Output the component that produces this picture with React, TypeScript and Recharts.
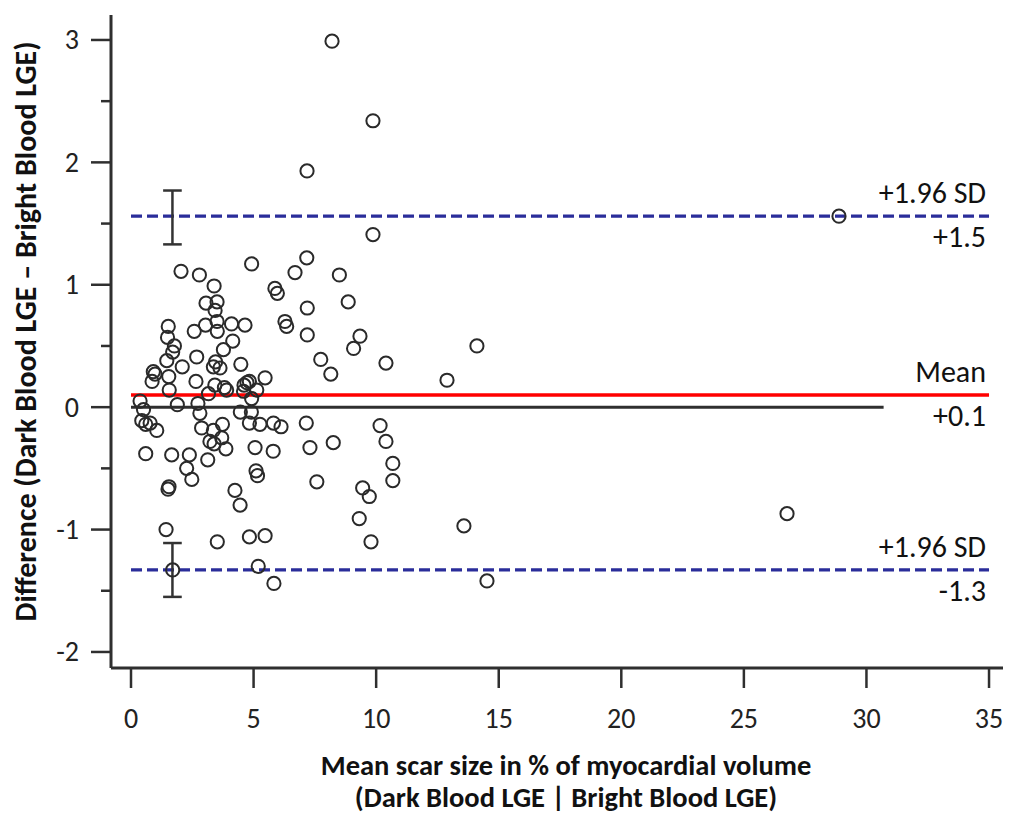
import React from 'react';
import { ScatterChart, Scatter, XAxis, YAxis, ReferenceLine } from 'recharts';

// Mean scar size (x) and difference (y) for each patient
const meanScarSize = [
  8.2, 9.87, 7.18, 9.87, 28.88, 4.92, 2.04, 2.79, 7.17, 6.69,
  8.5, 3.39, 5.87, 5.97, 3.06, 3.51, 8.86, 3.43, 7.19, 1.52,
  2.58, 3.04, 3.51, 3.52, 4.1, 4.65, 6.28, 6.35, 7.19, 9.34,
  1.49, 1.77, 1.7, 1.46, 4.15, 3.77, 9.08, 2.68, 3.45, 3.36,
  3.63, 2.09, 4.48, 7.74, 10.4, 8.15, 0.91, 0.98, 0.86, 1.54,
  5.47, 2.65, 4.73, 4.83, 12.89, 14.11, 3.42, 1.56, 3.16, 3.81,
  3.9, 5.13, 4.61, 4.59, 4.92, 0.37, 1.89, 2.73, 0.51, 2.81,
  4.46, 4.91, 0.44, 0.6, 0.78, 1.05, 7.15, 10.16, 5.81, 6.12,
  5.26, 4.83, 3.73, 3.36, 2.88, 3.7, 3.22, 3.39, 3.87, 7.3,
  8.25, 10.4, 5.06, 5.8, 10.68, 10.68, 7.58, 9.45, 9.72, 9.31,
  9.79, 0.6, 1.66, 2.38, 3.13, 2.27, 2.48, 5.1, 5.16, 1.55,
  1.51, 4.24, 4.45, 1.43, 3.52, 4.83, 5.47, 1.7, 5.19, 5.83,
  13.58, 14.52, 26.76,
];
const difference = [
  2.99, 2.34, 1.93, 1.41, 1.56, 1.17, 1.11, 1.08, 1.22, 1.1,
  1.08, 0.99, 0.97, 0.93, 0.85, 0.86, 0.86, 0.79, 0.81, 0.66,
  0.62, 0.67, 0.7, 0.62, 0.68, 0.67, 0.7, 0.66, 0.59, 0.58,
  0.57, 0.5, 0.45, 0.38, 0.54, 0.47, 0.48, 0.41, 0.37, 0.33,
  0.32, 0.33, 0.35, 0.39, 0.36, 0.27, 0.29, 0.27, 0.21, 0.25,
  0.24, 0.21, 0.2, 0.21, 0.22, 0.5, 0.18, 0.14, 0.11, 0.16,
  0.14, 0.14, 0.18, 0.13, 0.07, 0.05, 0.02, 0.03, -0.02, -0.05,
  -0.04, -0.04, -0.11, -0.14, -0.13, -0.19, -0.13, -0.15, -0.13, -0.16,
  -0.14, -0.13, -0.14, -0.19, -0.17, -0.25, -0.28, -0.3, -0.34, -0.33,
  -0.29, -0.28, -0.33, -0.36, -0.46, -0.6, -0.61, -0.66, -0.73, -0.91,
  -1.1, -0.38, -0.39, -0.39, -0.43, -0.5, -0.59, -0.52, -0.56, -0.65,
  -0.67, -0.68, -0.8, -1.0, -1.1, -1.06, -1.05, -1.33, -1.3, -1.44,
  -0.97, -1.42, -0.87,
];

const xTicks = [0, 5, 10, 15, 20, 25, 30, 35];
const yTicks = [-2, -1.5, -1, -0.5, 0, 0.5, 1, 1.5, 2, 2.5, 3];
const xDomain = [-0.816, 35.57];
const yDomain = [-2.131, 3.204];

const meanDiff = 0.1;
const upperLoA = 1.56;
const lowerLoA = -1.33;
const lineStart = 0;
const lineEnd = 35;
const zeroLineEnd = 30.7;

const ciX = 1.69;
const ciCapHalf = 0.38;
const upperCI = [1.33, 1.77];
const lowerCI = [-1.55, -1.11];

const upperLabels = ['+1.96 SD', '+1.5'];
const meanLabels = ['Mean', '+0.1'];
const lowerLabels = ['+1.96 SD', '-1.3'];

const xTitle = ['Mean scar size in % of myocardial volume', '(Dark Blood LGE | Bright Blood LGE)'];
const yTitle = 'Difference (Dark Blood LGE \u2013 Bright Blood LGE)';

const data = meanScarSize.map((x, i) => ({ x, y: difference[i] }));

const FONT = "Carlito, 'Open Sans', sans-serif";
const AXIS = '#2f2f2f';
const BLUE = '#2a2d9a';

const YTick = (props: any) => {
  const { x, y, payload } = props;
  const major = Number.isInteger(payload.value);
  return (
    <g>
      <line x1={x - (major ? 20 : 10)} x2={x} y1={y} y2={y} stroke={AXIS} strokeWidth={2.5} />
      {major && (
        <text x={x - 32} y={y} dy="0.34em" textAnchor="end" fontFamily={FONT} fontSize={28} fill="#222">
          {payload.value}
        </text>
      )}
    </g>
  );
};

const XTick = (props: any) => {
  const { x, y, payload } = props;
  return (
    <g>
      <line x1={x} x2={x} y1={y} y2={y + 20} stroke={AXIS} strokeWidth={2.5} />
      <text x={x} y={y + 60} textAnchor="middle" fontFamily={FONT} fontSize={28} fill="#222">
        {payload.value}
      </text>
    </g>
  );
};

const lineLabel = (texts: string[]) => (props: any) => {
  const vb = props.viewBox || {};
  const right = (vb.x || 0) + (vb.width || 0) - 3;
  const y = vb.y || 0;
  return (
    <g>
      <text x={right} y={y - 13} textAnchor="end" fontFamily={FONT} fontSize={30} fill="#111">
        {texts[0]}
      </text>
      <text x={right} y={y + 31} textAnchor="end" fontFamily={FONT} fontSize={30} fill="#111">
        {texts[1]}
      </text>
    </g>
  );
};

const XTitle = (props: any) => {
  const vb = props.viewBox || {};
  const cx = vb.x + vb.width / 2 + 9;
  return (
    <g>
      <text x={cx} y={vb.y + 107} textAnchor="middle" fontFamily={FONT} fontWeight="bold" fontSize={28.5} fill="#111">
        {xTitle[0]}
      </text>
      <text x={cx} y={vb.y + 139} textAnchor="middle" fontFamily={FONT} fontWeight="bold" fontSize={28.5} fill="#111">
        {xTitle[1]}
      </text>
    </g>
  );
};

const YTitle = (props: any) => {
  const vb = props.viewBox || {};
  const cy = vb.y + vb.height / 2 - 10;
  const cx = 25;
  return (
    <text
      x={cx}
      y={cy}
      dy="0.36em"
      textAnchor="middle"
      transform={`rotate(-90 ${cx} ${cy})`}
      fontFamily={FONT}
      fontWeight="bold"
      fontSize={30}
      fill="#111"
    >
      {yTitle}
    </text>
  );
};

const Ring = (props: any) => {
  const { cx, cy } = props;
  return <circle cx={cx} cy={cy} r={6.6} fill="none" stroke="#2a2a2a" strokeWidth={2} />;
};

export default function App() {
  return (
    <div style={{ position: 'absolute', left: 0, top: 0, background: '#fff' }}>
      <ScatterChart width={1009} height={816} margin={{ top: 15, right: 6, bottom: 0, left: 0 }}>
        <XAxis
          type="number"
          dataKey="x"
          domain={xDomain}
          allowDataOverflow
          ticks={xTicks}
          interval={0}
          height={148}
          tickSize={0}
          tickMargin={0}
          tick={<XTick />}
          axisLine={{ stroke: AXIS, strokeWidth: 3 }}
          tickLine={false}
          label={{ content: <XTitle /> }}
        />
        <YAxis
          type="number"
          dataKey="y"
          domain={yDomain}
          allowDataOverflow
          ticks={yTicks}
          interval={0}
          width={111}
          tickSize={0}
          tickMargin={0}
          tick={<YTick />}
          axisLine={{ stroke: AXIS, strokeWidth: 3 }}
          tickLine={false}
          label={{ content: <YTitle /> }}
        />
        <Scatter data={data} shape={<Ring />} isAnimationActive={false} />
        <ReferenceLine
          segment={[{ x: lineStart, y: 0 }, { x: zeroLineEnd, y: 0 }]}
          stroke="#2f2f2f"
          strokeWidth={3}
        />
        <ReferenceLine
          segment={[{ x: lineStart, y: meanDiff }, { x: lineEnd, y: meanDiff }]}
          stroke="#ff0000"
          strokeWidth={3.5}
          label={{ content: lineLabel(meanLabels) }}
        />
        <ReferenceLine
          segment={[{ x: lineStart, y: upperLoA }, { x: lineEnd, y: upperLoA }]}
          stroke={BLUE}
          strokeWidth={3.2}
          strokeDasharray="11 5"
          label={{ content: lineLabel(upperLabels) }}
        />
        <ReferenceLine
          segment={[{ x: lineStart, y: lowerLoA }, { x: lineEnd, y: lowerLoA }]}
          stroke={BLUE}
          strokeWidth={3.2}
          strokeDasharray="11 5"
          label={{ content: lineLabel(lowerLabels) }}
        />
        {[upperCI, lowerCI].map((ci, i) => (
          <React.Fragment key={i}>
            <ReferenceLine segment={[{ x: ciX, y: ci[0] }, { x: ciX, y: ci[1] }]} stroke="#333" strokeWidth={2.5} />
            <ReferenceLine
              segment={[{ x: ciX - ciCapHalf, y: ci[0] }, { x: ciX + ciCapHalf, y: ci[0] }]}
              stroke="#333"
              strokeWidth={2.5}
            />
            <ReferenceLine
              segment={[{ x: ciX - ciCapHalf, y: ci[1] }, { x: ciX + ciCapHalf, y: ci[1] }]}
              stroke="#333"
              strokeWidth={2.5}
            />
          </React.Fragment>
        ))}
      </ScatterChart>
    </div>
  );
}
